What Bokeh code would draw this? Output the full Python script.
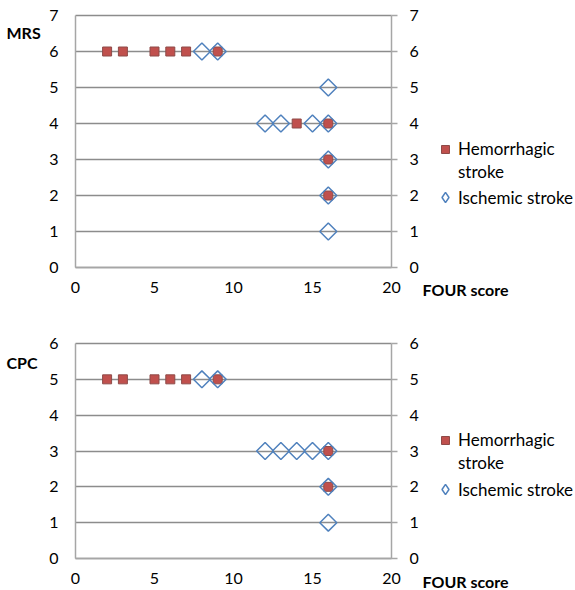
from bokeh.plotting import figure
from bokeh.models import Range1d, LinearAxis, Label, Legend, LegendItem, FixedTicker, Grid
from bokeh.layouts import column
from bokeh.embed import file_html
from bokeh.resources import INLINE
import math

# ---- data ----
mrs_hem_x = [2, 3, 5, 6, 7, 9, 14, 16, 16, 16]
mrs_hem_y = [6, 6, 6, 6, 6, 6, 4, 4, 3, 2]
mrs_isc_x = [8, 9, 16, 12, 13, 15, 16, 16, 16, 16]
mrs_isc_y = [6, 6, 5, 4, 4, 4, 4, 3, 2, 1]

cpc_hem_x = [2, 3, 5, 6, 7, 9, 16, 16]
cpc_hem_y = [5, 5, 5, 5, 5, 5, 3, 2]
cpc_isc_x = [8, 9, 12, 13, 14, 15, 16, 16, 16]
cpc_isc_y = [5, 5, 3, 3, 3, 3, 3, 2, 1]

x_ticks = [0, 5, 10, 15, 20]
mrs_ticks = [0, 1, 2, 3, 4, 5, 6, 7]
cpc_ticks = [0, 1, 2, 3, 4, 5, 6]

FONT = "Lato"
RED = "#C0504D"
BLUE = "#4F81BD"
GRID = "#8C8C8C"
AXIS = "#A6A6A6"

W = 575
XMIN, XMAX = 0, 20
PX_PER_X = 15.8
FRAME_LEFT = 75
X_START = XMIN - FRAME_LEFT / PX_PER_X
X_END = X_START + W / PX_PER_X


def style_axis(a, ticks, tick_out, standoff):
    a.ticker = FixedTicker(ticks=ticks)
    a.axis_line_color = AXIS
    a.axis_line_width = 1.5
    a.major_tick_line_color = AXIS if tick_out else None
    a.major_tick_line_width = 1.5
    a.minor_tick_line_color = None
    a.major_tick_out = tick_out
    a.major_tick_in = 0
    a.major_label_standoff = standoff
    a.major_label_text_font = FONT
    a.major_label_text_font_size = "16px"
    a.major_label_text_color = "black"


def style_legend(lg, glyph):
    lg.border_line_color = None
    lg.background_fill_alpha = 0
    lg.margin = 0
    lg.padding = 0
    lg.spacing = 2
    lg.glyph_width = glyph
    lg.glyph_height = glyph
    lg.label_height = 20
    lg.label_standoff = 3 if glyph == 20 else 0
    lg.label_text_font = FONT
    lg.label_text_font_size = "17px"
    lg.label_text_color = "black"


def make_chart(hx, hy, ix, iy, yticks, ymax, title, height, top_px, bottom_px,
               title_y, four_y, leg1_loc, leg2_loc):
    ppy = (bottom_px - top_px) / ymax
    y_end = ymax + top_px / ppy
    y_start = -(height - bottom_px) / ppy
    p = figure(width=W, height=height, output_backend="svg",
               toolbar_location=None, x_range=Range1d(X_START, X_END),
               y_range=Range1d(y_start, y_end), min_border=0,
               min_border_left=0, min_border_right=0, min_border_top=0,
               min_border_bottom=0, x_axis_location=None, y_axis_location=None)
    p.outline_line_color = None
    p.background_fill_color = "white"
    p.border_fill_color = "white"
    p.grid.visible = False

    # horizontal gridlines limited to the chart area
    g = Grid(dimension=1, ticker=FixedTicker(ticks=yticks),
             grid_line_color=GRID, grid_line_width=1.3, bounds=(0, ymax))
    if "cross_bounds" in Grid.properties():
        g.cross_bounds = (XMIN, XMAX)
        p.add_layout(g)
    else:
        p.segment(x0=XMIN, x1=XMAX, y0=yticks[1:], y1=yticks[1:],
                  line_color=GRID, line_width=1.3)

    xa = LinearAxis(fixed_location=0, bounds=(XMIN, XMAX))
    style_axis(xa, x_ticks, 0, 14)
    p.add_layout(xa, "below")

    ya = LinearAxis(fixed_location=XMIN, bounds=(0, ymax))
    style_axis(ya, yticks, 0, 17)
    p.add_layout(ya, "left")

    ra = LinearAxis(fixed_location=XMAX, bounds=(0, ymax))
    style_axis(ra, yticks, 6, 12)
    p.add_layout(ra, "right")

    r_h = p.scatter(hx, hy, marker="square", size=9, fill_color=RED,
                    line_color="#8E4A48", line_width=1)
    r_i = p.scatter(ix, iy, marker="square", angle=math.pi / 4, size=12,
                    fill_color=None, line_color=BLUE, line_width=1.5)
    # legend-only stand-ins (zero-size on the plot)
    r_blank = p.scatter(hx, hy, marker="square", size=0, fill_alpha=0,
                        line_alpha=0)
    r_dia = p.scatter(ix, iy, marker="diamond", size=0, fill_color=None,
                      line_color=BLUE, line_width=1.5)

    leg1 = Legend(items=[
        LegendItem(label="Hemorrhagic", renderers=[r_h]),
        LegendItem(label="stroke", renderers=[r_blank]),
    ], location=leg1_loc)
    style_legend(leg1, 20)
    p.add_layout(leg1)

    leg2 = Legend(items=[
        LegendItem(label="Ischemic stroke", renderers=[r_dia]),
    ], location=leg2_loc)
    style_legend(leg2, 26)
    p.add_layout(leg2)

    p.add_layout(Label(x=X_START + 6 / PX_PER_X, y=title_y, text=title,
                       text_font=FONT, text_font_size="16px",
                       text_font_style="bold", text_baseline="middle",
                       text_align="left", text_color="black"))
    p.add_layout(Label(x=XMIN + 347 / PX_PER_X, y=four_y,
                       text="FOUR score", text_font=FONT,
                       text_font_size="16px", text_font_style="bold",
                       text_baseline="middle", text_align="left",
                       text_color="black"))
    return p


p1 = make_chart(mrs_hem_x, mrs_hem_y, mrs_isc_x, mrs_isc_y, mrs_ticks, 7,
                "MRS", 298, 15, 267, 6.52, -0.6, (435, 116), (432, 88))
p2 = make_chart(cpc_hem_x, cpc_hem_y, cpc_isc_x, cpc_isc_y, cpc_ticks, 6,
                "CPC", 292, 45, 260, 5.47, -0.64, (435, 117), (432, 88))

layout = column(p1, p2, spacing=0)
open("out.html", "w").write(file_html(layout, INLINE))
